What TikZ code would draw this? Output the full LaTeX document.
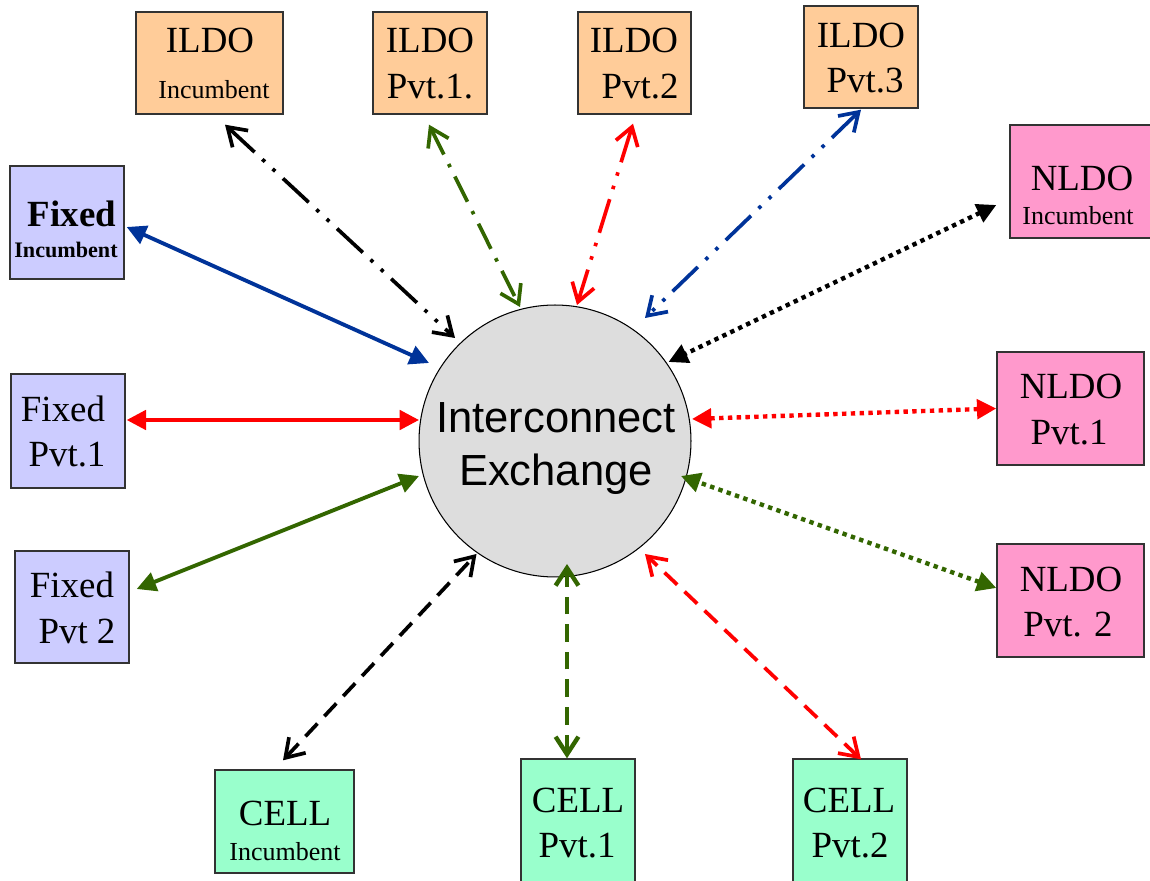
\documentclass[tikz,border=0pt]{standalone}
\usepackage{fontspec}
\setmainfont{Liberation Serif}
\newfontfamily\ixfont{Liberation Sans}
\usetikzlibrary{arrows.meta}
\definecolor{ildofill}{HTML}{FFCC99}
\definecolor{nldofill}{HTML}{FF99CC}
\definecolor{fixfill}{HTML}{CCCCFF}
\definecolor{cellfill}{HTML}{99FFCC}
\definecolor{ixfill}{HTML}{DDDDDD}
\definecolor{cblue}{HTML}{003399}
\definecolor{cgreen}{HTML}{336600}
\definecolor{cred}{HTML}{FF0000}
\definecolor{boxline}{HTML}{333333}
\tikzset{
  box/.style={draw=boxline, line width=0.8pt, rectangle, inner sep=0pt},
  big/.style={anchor=base, inner sep=0pt, font=\fontsize{21}{25}\selectfont},
  small/.style={anchor=base, inner sep=0pt, font=\fontsize{14.8}{17}\selectfont},
  filledtips/.style={{Triangle[length=11pt,width=11pt]}-{Triangle[length=11pt,width=11pt]}},
  opentips/.style={{Straight Barb[length=10pt,width=13pt]}-{Straight Barb[length=10pt,width=13pt]}},
  solidlink/.style={line width=2.2pt, filledtips},
  dotlink/.style={line width=2.5pt, filledtips, dash pattern=on 2.5pt off 2.5pt},
  dddlink/.style={line width=2.1pt, opentips, dash pattern=on 20pt off 6pt on 2pt off 6pt on 2pt off 6pt},
  ddlink/.style={line width=2.1pt, opentips, dash pattern=on 16pt off 6pt on 2pt off 6pt},
  dashlink/.style={line width=2.1pt, opentips, dash pattern=on 10pt off 5.7pt},
}
\begin{document}
\begin{tikzpicture}[x=0.02cm, y=-0.02cm]
\useasboundingbox (0,0) rectangle (1150,881);

% central exchange
\node[circle, draw=black, line width=0.6pt, fill=ixfill, minimum size=5.44cm, inner sep=0pt] (ix) at (555,441) {};
\node[anchor=base, inner sep=0pt, font=\ixfont\fontsize{24.8}{30}\selectfont] (ixa) at (556,433) {Interconnect};
\node[anchor=base, inner sep=0pt, font=\ixfont\fontsize{24.8}{30}\selectfont] (ixb) at (556,486) {Exchange};

% ILDO boxes
\node[box, fill=ildofill, minimum width=2.94cm, minimum height=2.04cm] (ildoinc) at (209.5,63) {};
\node[big] (ildoincA) at (210,53) {ILDO};
\node[small] (ildoincB) at (214,99) {Incumbent};

\node[box, fill=ildofill, minimum width=2.28cm, minimum height=2.04cm] (ildo1) at (430,63) {};
\node[big] (ildo1A) at (430,53) {ILDO};
\node[big] (ildo1B) at (430,99) {Pvt.1.};

\node[box, fill=ildofill, minimum width=2.26cm, minimum height=2.04cm] (ildo2) at (634.5,63) {};
\node[big] (ildo2A) at (634,53) {ILDO};
\node[big] (ildo2B) at (640,99) {Pvt.2};

\node[box, fill=ildofill, minimum width=2.28cm, minimum height=2.04cm] (ildo3) at (861,57) {};
\node[big] (ildo3A) at (861,48) {ILDO};
\node[big] (ildo3B) at (865,93) {Pvt.3};

% NLDO boxes
\node[box, fill=nldofill, minimum width=2.82cm, minimum height=2.26cm] (nldoinc) at (1080.5,181.5) {};
\node[big] (nldoincA) at (1082,191) {NLDO};
\node[small] (nldoincB) at (1078,225) {Incumbent};

\node[box, fill=nldofill, minimum width=2.94cm, minimum height=2.26cm] (nldo1) at (1070.5,408.5) {};
\node[big] (nldo1A) at (1071,399) {NLDO};
\node[big] (nldo1B) at (1069,445) {Pvt.1};

\node[box, fill=nldofill, minimum width=2.94cm, minimum height=2.26cm] (nldo2) at (1070.5,600.5) {};
\node[big] (nldo2A) at (1071,592) {NLDO};
\node[big] (nldo2B) at (1068,637) {Pvt. 2};

% Fixed boxes
\node[box, fill=fixfill, minimum width=2.28cm, minimum height=2.26cm] (fixinc) at (67,222.5) {};
\node[big, font=\fontsize{21}{25}\selectfont\bfseries] (fixincA) at (72,227) {Fixed};
\node[anchor=base, inner sep=0pt, font=\fontsize{12.6}{15}\selectfont\bfseries] (fixincB) at (66,258) {Incumbent};

\node[box, fill=fixfill, minimum width=2.28cm, minimum height=2.28cm] (fix1) at (68,431) {};
\node[big] (fix1A) at (63,422) {Fixed};
\node[big] (fix1B) at (67,467) {Pvt.1};

\node[box, fill=fixfill, minimum width=2.28cm, minimum height=2.24cm] (fix2) at (72,607) {};
\node[big] (fix2A) at (72,598) {Fixed};
\node[big] (fix2B) at (77,643) {Pvt 2};

% CELL boxes
\node[box, fill=cellfill, minimum width=2.78cm, minimum height=2.06cm] (cellinc) at (284.5,821.5) {};
\node[big] (cellincA) at (285,825) {CELL};
\node[small] (cellincB) at (285,860) {Incumbent};

\node[box, fill=cellfill, minimum width=2.28cm, minimum height=2.8cm] (cell1) at (578,829) {};
\node[big] (cell1A) at (578,812) {CELL};
\node[big] (cell1B) at (577,857) {Pvt.1};

\node[box, fill=cellfill, minimum width=2.28cm, minimum height=2.8cm] (cell2) at (850,829) {};
\node[big] (cell2A) at (849,812) {CELL};
\node[big] (cell2B) at (850,857) {Pvt.2};

% connectors
\draw[dddlink, black] ([shift={(15.5,10)}]ildoinc.south) -- ([shift={(-100,-103)}]ix.center);
\draw[ddlink, cgreen] ([shift={(-1,10)}]ildo1.south) -- ([shift={(-35,-134)}]ix.center);
\draw[dddlink, cred] ([shift={(-1.5,9)}]ildo2.south) -- ([shift={(22,-136)}]ix.center);
\draw[dddlink, cblue] ([shift={(0,1)}]ildo3.south) -- ([shift={(90,-123)}]ix.center);
\draw[dotlink, black] ([shift={(-13,23.5)}]nldoinc.west) -- ([shift={(113.5,-79)}]ix.center);
\draw[solidlink, cblue] ([shift={(2,4.5)}]fixinc.east) -- ([shift={(-126,-78)}]ix.center);
\draw[solidlink, cred] ([shift={(1,-11)}]fix1.east) -- ([shift={(-136,-21)}]ix.center);
\draw[solidlink, cgreen] ([shift={(7,-18)}]fix2.east) -- ([shift={(-136,35)}]ix.center);
\draw[dotlink, cred] (nldo1.west) -- ([shift={(137,-22)}]ix.center);
\draw[dotlink, cgreen] ([shift={(0,-12.5)}]nldo2.west) -- ([shift={(126,35)}]ix.center);
\draw[dashlink, black] ([shift={(-1.5,-9)}]cellinc.north) -- ([shift={(-78.5,113)}]ix.center);
\draw[dashlink, cgreen, line width=2.5pt] ([shift={(-11,0)}]cell1.north) -- ([shift={(12,123)}]ix.center);
\draw[dashlink, cred] ([shift={(11,1)}]cell2.north) -- ([shift={(90,113)}]ix.center);
\end{tikzpicture}
\end{document}
